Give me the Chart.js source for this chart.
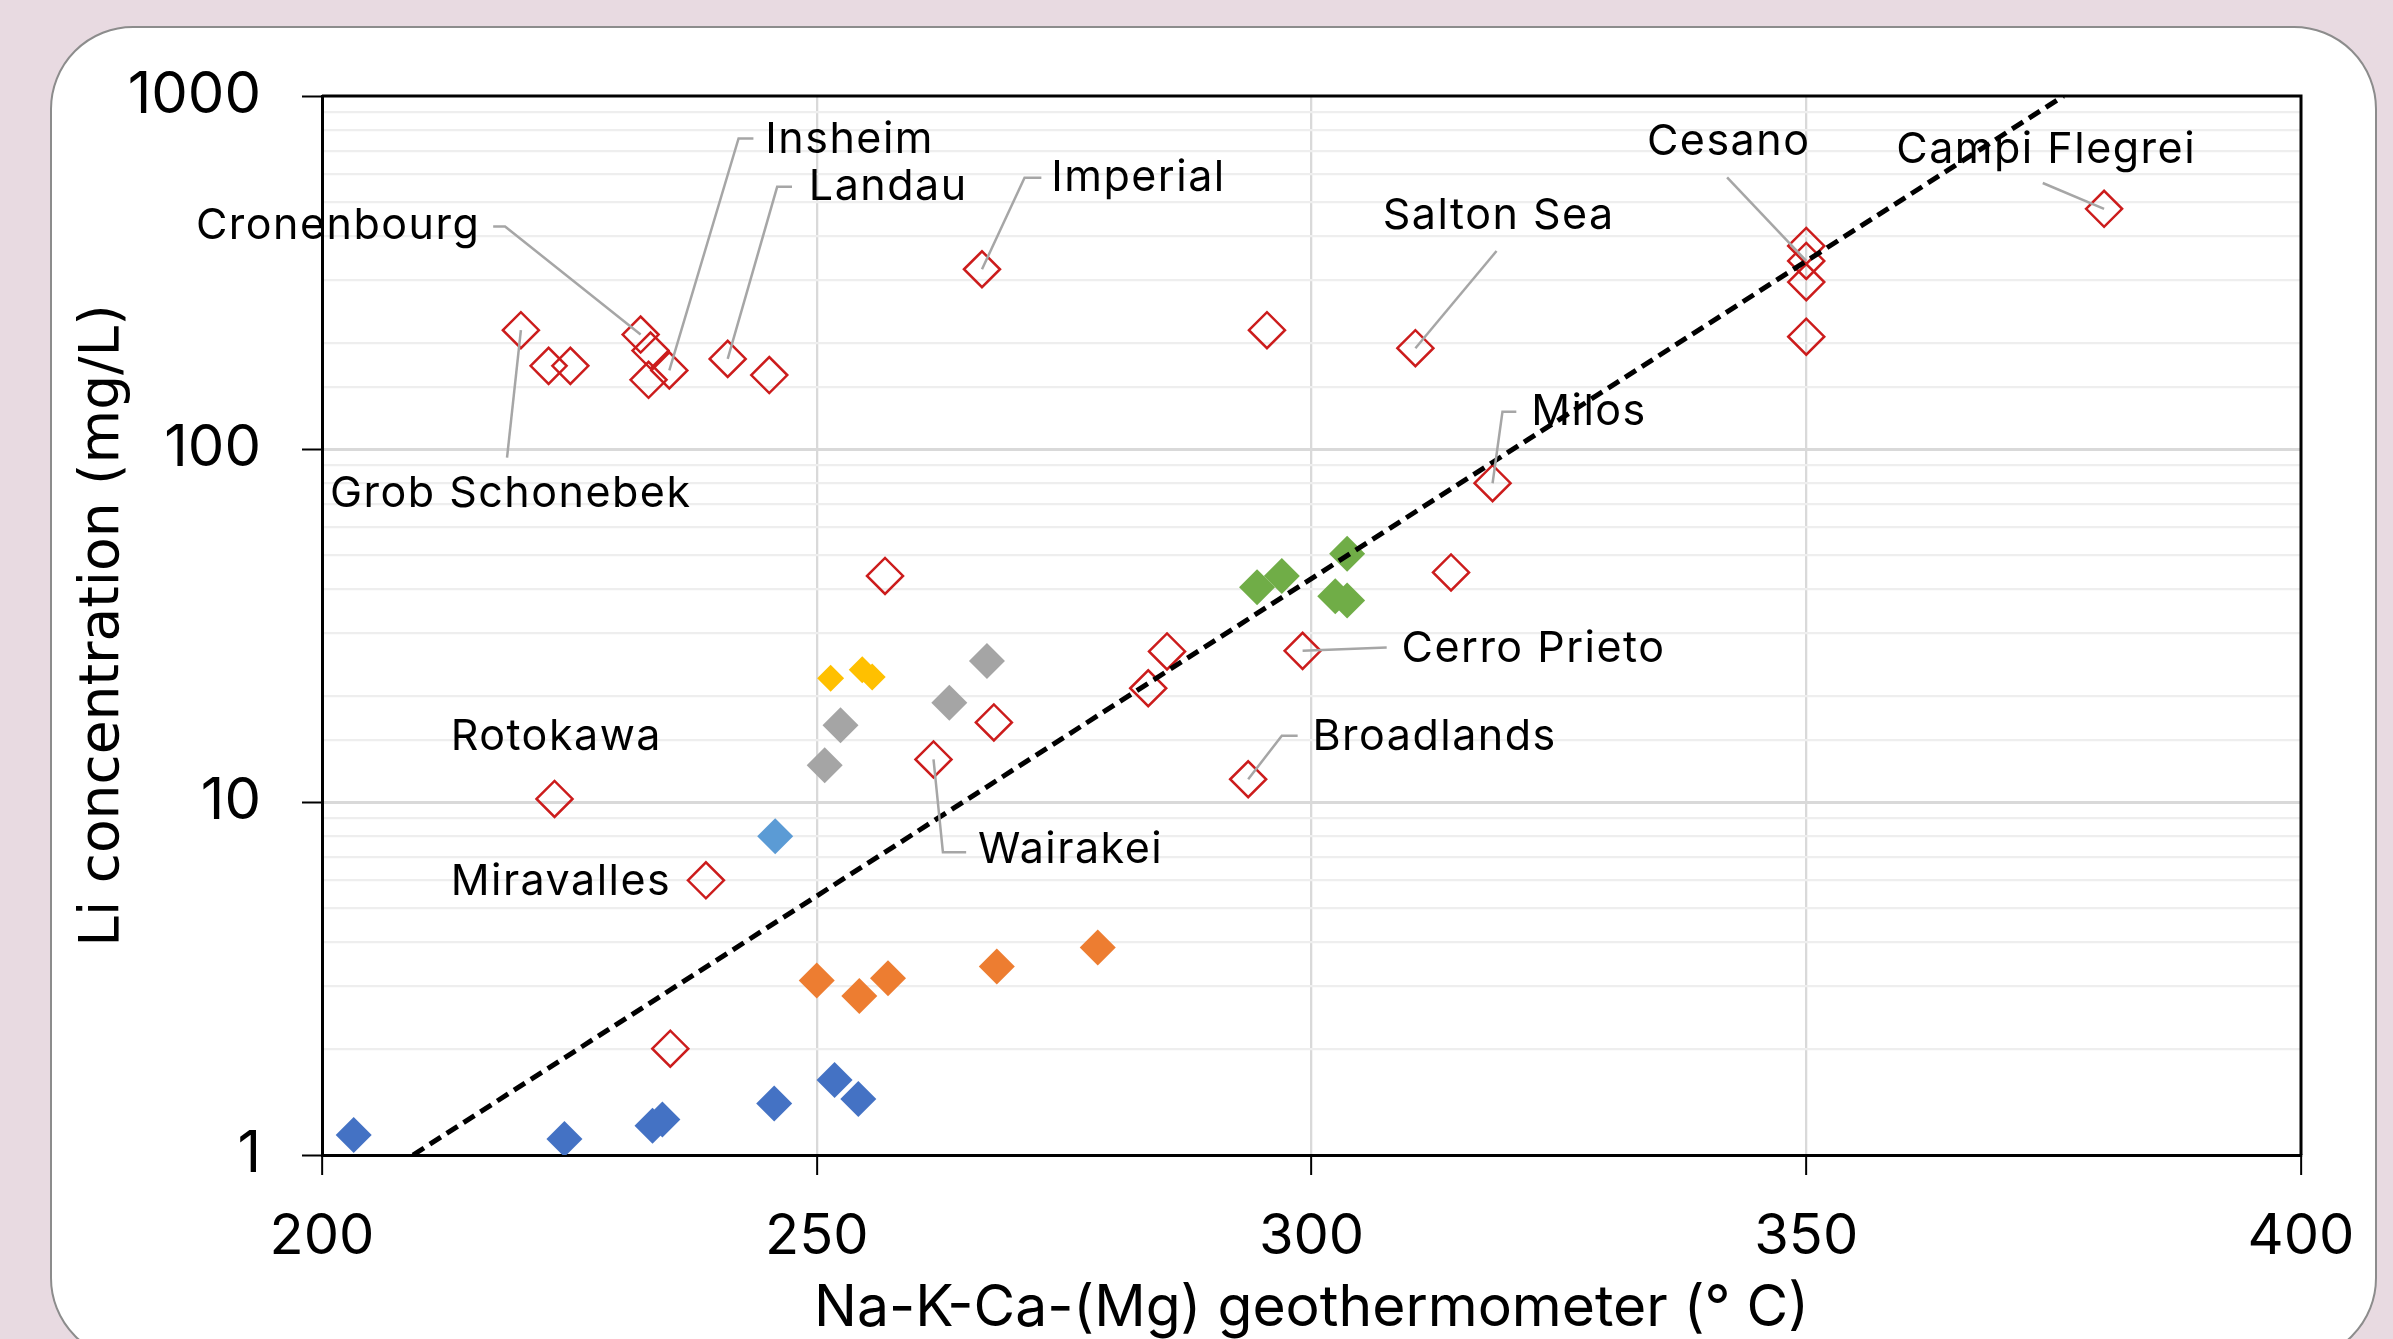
<!DOCTYPE html>
<html>
<head>
<meta charset="utf-8">
<title>Li concentration vs Na-K-Ca-(Mg) geothermometer</title>
<script src="https://cdn.jsdelivr.net/npm/chart.js@4.4.1/dist/chart.umd.min.js"></script>
<style>
  html, body { margin: 0; padding: 0; background: #e8dae1; overflow: hidden; }
  canvas { display: block; }
</style>
</head>
<body>
<canvas id="chart" width="2393" height="1339"></canvas>
<script>
// open red diamonds: geothermal fields from the literature
const siteX = [220.1, 222.9, 225.1, 232.2, 233.2, 233.0, 235.1, 241.0, 245.2, 266.7,
               295.5, 310.5, 350.0, 350.0, 350.0, 350.0, 380.1, 318.3, 314.1, 256.9,
               285.4, 283.5, 299.1, 267.9, 261.8, 293.6, 223.5, 238.8, 235.2];
const siteY = [217, 172, 172, 211, 190, 157, 167, 180, 162, 323,
               217, 193, 376, 341, 297, 208, 479, 80, 44.7, 43.7,
               26.7, 21, 26.8, 16.8, 13.2, 11.6, 10.2, 6.0, 2.0];

// filled diamonds: sampled wells, one colour per group
const blueX = [203.2, 224.5, 233.4, 234.4, 245.7, 251.8, 254.2];
const blueY = [1.14, 1.11, 1.21, 1.26, 1.40, 1.63, 1.44];
const lightBlueX = [245.8];
const lightBlueY = [8.0];
const orangeX = [250.0, 254.3, 257.2, 268.2, 278.4];
const orangeY = [3.12, 2.82, 3.17, 3.42, 3.87];
const yellowX = [251.4, 254.6, 255.6];
const yellowY = [22.4, 23.7, 22.6];
const grayX = [267.2, 263.4, 252.4, 250.8];
const grayY = [25.1, 19.1, 16.5, 12.7];
const greenX = [294.5, 297.0, 303.6, 302.4, 303.6];
const greenY = [40.6, 43.7, 50.5, 38.3, 37.2];

// dashed trend
const trendX = [209.2, 376.0];
const trendY = [1, 1000];

// axis ticks
const xTicks = [200, 250, 300, 350, 400];
const yLabels = [1, 10, 100, 1000];

// callouts: site index, text anchor (data units), leader bends towards the site
const callouts = [
    { text: 'Grob Schonebek', site: 0, at: [200.8, 74.5], align: 'left', path: [[218.7, 94.5]] },
    { text: 'Cronenbourg', site: 3, at: [216.0, 427], align: 'right', path: [[217.3, 427], [218.5, 427]] },
    { text: 'Insheim', site: 6, at: [244.8, 750], align: 'left', path: [[243.6, 758], [242.1, 758]] },
    { text: 'Landau', site: 7, at: [249.2, 552], align: 'left', path: [[247.5, 553], [246.0, 553]] },
    { text: 'Imperial', site: 9, at: [273.7, 584], align: 'left', path: [[272.7, 587], [271.0, 587]] },
    { text: 'Salton Sea', site: 11, at: [307.2, 456], align: 'left', path: [[318.7, 364]] },
    { text: 'Cesano', site: 13, at: [333.9, 741], align: 'left', path: [[342.0, 588]] },
    { text: 'Campi Flegrei', site: 16, at: [359.1, 703], align: 'left', path: [[373.9, 567]] },
    { text: 'Milos', site: 17, at: [322.2, 127.6], align: 'left', path: [[320.7, 127.6], [319.3, 127.6]] },
    { text: 'Cerro Prieto', site: 22, at: [309.1, 27.2], align: 'left', path: [[307.6, 27.4]] },
    { text: 'Broadlands', site: 25, at: [300.1, 15.3], align: 'left', path: [[298.6, 15.4], [297.0, 15.4]] },
    { text: 'Rotokawa', site: 26, at: [213.0, 15.3], align: 'left', path: [] },
    { text: 'Miravalles', site: 27, at: [213.0, 5.95], align: 'left', path: [] },
    { text: 'Wairakei', site: 24, at: [266.3, 7.3], align: 'left', path: [[265.1, 7.21], [262.75, 7.21]] }
];

const toPoints = (xs, ys) => xs.map((x, i) => ({ x: x, y: ys[i] }));
const isDecade = (v) => Math.abs(Math.log10(v) - Math.round(Math.log10(v))) < 1e-9;

function filledSet(xs, ys, color, size) {
    return {
        data: toPoints(xs, ys),
        pointStyle: 'rectRot',
        pointRadius: size || 18,
        backgroundColor: color,
        borderColor: color,
        borderWidth: 0,
        order: 2
    };
}

// page background and white rounded card
const cardPlugin = {
    id: 'card',
    beforeDraw(chart) {
        const ctx = chart.ctx;
        ctx.save();
        ctx.fillStyle = '#e8dae1';
        ctx.fillRect(0, 0, chart.width, chart.height);
        const x = 51, y = 27, w = 2325, h = 1333, r = 82;
        ctx.beginPath();
        ctx.moveTo(x + r, y);
        ctx.arcTo(x + w, y, x + w, y + h, r);
        ctx.arcTo(x + w, y + h, x, y + h, r);
        ctx.arcTo(x, y + h, x, y, r);
        ctx.arcTo(x, y, x + w, y, r);
        ctx.closePath();
        ctx.fillStyle = '#ffffff';
        ctx.fill();
        ctx.lineWidth = 2;
        ctx.strokeStyle = '#8c8c8c';
        ctx.stroke();
        ctx.restore();
    }
};

// top and right frame of the plot box
const framePlugin = {
    id: 'frame',
    afterDatasetsDraw(chart) {
        const { ctx, chartArea: a } = chart;
        ctx.save();
        ctx.strokeStyle = '#000';
        ctx.lineWidth = 3;
        ctx.beginPath();
        ctx.moveTo(a.left, a.top);
        ctx.lineTo(a.right, a.top);
        ctx.lineTo(a.right, a.bottom);
        ctx.stroke();
        ctx.restore();
    }
};

// site names with grey leader lines
const calloutPlugin = {
    id: 'callouts',
    afterDatasetsDraw(chart) {
        const ctx = chart.ctx;
        const xs = chart.scales.x, ys = chart.scales.y;
        const px = (p) => [xs.getPixelForValue(p[0]), ys.getPixelForValue(p[1])];
        ctx.save();
        callouts.forEach(c => {
            if (c.path.length) {
                const pts = c.path.concat([[siteX[c.site], siteY[c.site]]]).map(px);
                ctx.beginPath();
                ctx.moveTo(pts[0][0], pts[0][1]);
                pts.slice(1).forEach(p => ctx.lineTo(p[0], p[1]));
                ctx.strokeStyle = '#a6a6a6';
                ctx.lineWidth = 2.5;
                ctx.stroke();
            }
            const t = px(c.at);
            ctx.font = '43px Inter';
            ctx.letterSpacing = '1.5px';
            ctx.fillStyle = '#000';
            ctx.textAlign = c.align;
            ctx.textBaseline = 'middle';
            ctx.fillText(c.text, t[0], t[1]);
        });
        ctx.restore();
    }
};

new Chart(document.getElementById('chart'), {
    type: 'scatter',
    data: {
        datasets: [
            {
                data: toPoints(trendX, trendY),
                showLine: true,
                borderColor: '#000',
                borderWidth: 5,
                borderDash: [13, 7],
                pointRadius: 0,
                order: 0
            },
            {
                data: toPoints(siteX, siteY),
                pointStyle: 'rectRot',
                pointRadius: 18,
                backgroundColor: 'rgba(0,0,0,0)',
                borderColor: '#cc1c1c',
                borderWidth: 2.5,
                order: 1
            },
            filledSet(blueX, blueY, '#4472c4'),
            filledSet(lightBlueX, lightBlueY, '#5b9bd5'),
            filledSet(orangeX, orangeY, '#ed7d31'),
            filledSet(yellowX, yellowY, '#ffc000', 13.5),
            filledSet(grayX, grayY, '#a5a5a5'),
            filledSet(greenX, greenY, '#70ad47')
        ]
    },
    options: {
        responsive: false,
        animation: false,
        devicePixelRatio: 1,
        layout: { padding: { left: 0, top: 96, right: 92, bottom: 0 } },
        plugins: {
            legend: { display: false },
            tooltip: { enabled: false }
        },
        scales: {
            x: {
                type: 'linear',
                min: 200,
                max: 400,
                afterBuildTicks: (scale) => { scale.ticks = xTicks.map(v => ({ value: v })); },
                afterFit: (scale) => { scale.height = 184; },
                ticks: {
                    color: '#000',
                    font: { family: 'Inter', size: 56 },
                    padding: 29,
                    autoSkip: false,
                    maxRotation: 0
                },
                grid: {
                    color: (c) => (c.tick && c.tick.value > 200 && c.tick.value < 400) ? '#d9d9d9' : 'rgba(0,0,0,0)',
                    lineWidth: 2.3,
                    tickColor: '#000',
                    tickLength: 20,
                    tickWidth: 2
                },
                border: { color: '#000', width: 3 },
                title: {
                    display: true,
                    text: 'Na-K-Ca-(Mg) geothermometer (° C)',
                    color: '#000',
                    font: { family: 'Inter', size: 57, lineHeight: 1 },
                    padding: { top: 0, bottom: 2 }
                }
            },
            y: {
                type: 'logarithmic',
                min: 1,
                max: 1000,
                afterFit: (scale) => { scale.width = 322; },
                ticks: {
                    color: '#000',
                    font: { family: 'Inter', size: 58 },
                    padding: 41,
                    autoSkip: false,
                    callback: (v) => yLabels.includes(v) ? String(v) : ''
                },
                grid: {
                    color: (c) => {
                        const v = c.tick ? c.tick.value : 0;
                        if (v <= 1 || v >= 1000) return 'rgba(0,0,0,0)';
                        return isDecade(v) ? '#d9d9d9' : '#eeeeee';
                    },
                    lineWidth: (c) => (c.tick && isDecade(c.tick.value)) ? 3 : 2.2,
                    tickColor: (c) => (c.tick && isDecade(c.tick.value)) ? '#000' : 'rgba(0,0,0,0)',
                    tickLength: 20,
                    tickWidth: 2
                },
                border: { color: '#000', width: 3 },
                title: {
                    display: true,
                    text: 'Li concentration (mg/L)',
                    color: '#000',
                    font: { family: 'DejaVu Sans', size: 55, lineHeight: 1 },
                    padding: { top: 76, bottom: 0 }
                }
            }
        }
    },
    plugins: [cardPlugin, framePlugin, calloutPlugin]
});
</script>
</body>
</html>
